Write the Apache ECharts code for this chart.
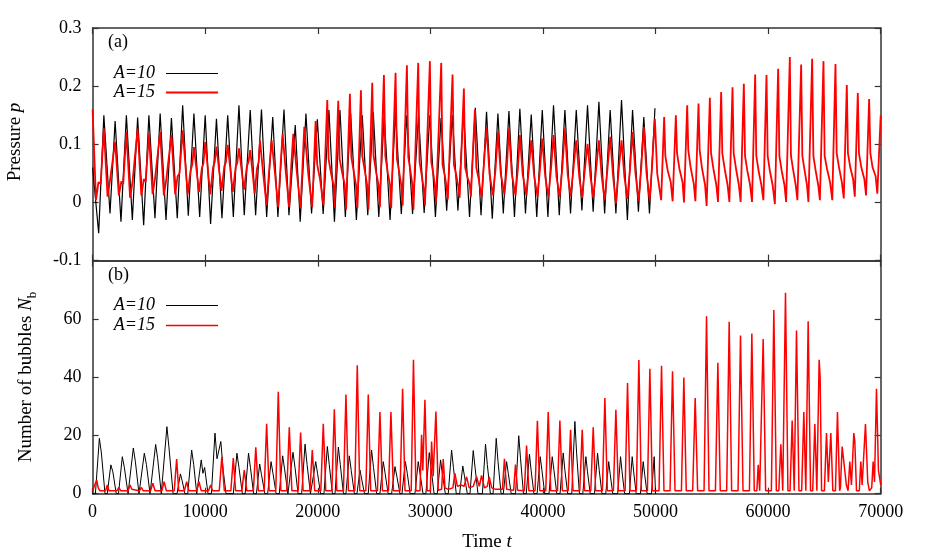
<!DOCTYPE html>
<html>
<head>
<meta charset="utf-8">
<title>Pressure and number of bubbles</title>
<script src="https://cdn.jsdelivr.net/npm/echarts@6/dist/echarts.min.js"></script>
<style>
  html, body { margin: 0; padding: 0; background: #fff; }
  #chart { width: 926px; height: 555px; }
</style>
</head>
<body>
<div id="chart"></div>
<script>
  // axis ranges and ticks
  var timeAxis = [0, 70000, 10000];
  var pressureAxis = [-0.1, 0.3, 0.1];
  var bubbleAxis = [0, 80, 20];

  // (a) pressure p, A=10 : [t, p]
  var pressureA10 = [
    [0, 0.06], [540, -0.053],
    [1000, 0.150], [1545, -0.019], [2000, 0.140], [2520, -0.033], [3000, 0.150], [3530, -0.030],
    [4000, 0.146], [4535, -0.039], [5000, 0.150], [5540, -0.027], [6000, 0.153], [6520, -0.030],
    [7000, 0.145], [7520, -0.027], [8000, 0.167], [8500, -0.023], [9000, 0.153], [9510, -0.025],
    [10000, 0.150], [10480, -0.037], [11000, 0.144], [11490, -0.027], [12000, 0.150], [12500, -0.025],
    [13000, 0.167], [13470, -0.022], [14000, 0.159], [14480, -0.022], [15000, 0.160], [15460, -0.025],
    [16000, 0.147], [16460, -0.025], [17000, 0.160], [17440, -0.022], [18000, 0.133], [18440, -0.033],
    [18950, 0.153], [19450, -0.019], [19960, 0.143], [20480, -0.020], [20990, 0.159], [21480, -0.033],
    [21970, 0.159], [22450, -0.025], [22920, 0.153], [23430, -0.030], [23950, 0.150], [24440, -0.022],
    [24930, 0.155], [25420, -0.025], [25900, 0.150], [26420, -0.030], [26900, 0.155], [27420, -0.020],
    [27900, 0.150], [28420, -0.020], [28950, 0.150], [29450, -0.018], [29950, 0.150], [30450, -0.025],
    [30950, 0.145], [31450, -0.014], [31950, 0.150], [32450, -0.014], [32950, 0.157], [33480, -0.025],
    [33990, 0.163], [34500, -0.022], [34990, 0.156], [35500, -0.028], [36000, 0.153], [36480, -0.019],
    [36980, 0.157], [37470, -0.025], [37950, 0.161], [38450, -0.019], [38960, 0.151], [39450, -0.025],
    [39940, 0.159], [40440, -0.025], [40940, 0.167], [41450, -0.022], [41950, 0.159], [42450, -0.019],
    [42960, 0.159], [43460, -0.014], [43960, 0.167], [44460, -0.016], [44970, 0.173], [45480, -0.019],
    [45970, 0.159], [46480, -0.019], [46980, 0.176], [47500, -0.030], [47960, 0.159], [48480, -0.016],
    [48960, 0.147], [49460, -0.019], [49950, 0.162]
  ];

  // (a) pressure p, A=15 : [t, p]
  var pressureA15 = [
    [0, 0.160], [300, 0.004], [520, 0.035], [720, 0.032],
    [1000, 0.127], [1330, 0.010], [1550, 0.038], [1720, 0.035],
    [2000, 0.104], [2330, 0.012], [2550, 0.036], [2720, 0.032],
    [3000, 0.121], [3330, 0.008], [3550, 0.036], [3720, 0.038],
    [4000, 0.127], [4330, 0.012], [4550, 0.040], [4720, 0.036],
    [5000, 0.118], [5330, 0.014], [5550, 0.042], [5720, 0.040],
    [6000, 0.121], [6330, 0.012], [6550, 0.040], [6720, 0.042],
    [7000, 0.116], [7330, 0.014], [7550, 0.045], [7720, 0.050],
    [8000, 0.124], [8450, 0.014], [8700, 0.055], [8850, 0.065],
    [9000, 0.095], [9450, 0.018], [9700, 0.058], [9850, 0.068],
    [10000, 0.104], [10450, 0.014], [10700, 0.060], [10850, 0.070],
    [11000, 0.096], [11450, 0.020], [11700, 0.062], [11850, 0.070],
    [12000, 0.099], [12450, 0.018], [12700, 0.060], [12850, 0.068],
    [13000, 0.093], [13450, 0.022], [13700, 0.062], [13850, 0.070],
    [14000, 0.090], [14400, 0.015], [14600, 0.058], [14750, 0.070],
    [14865, 0.107], [15150, 0.050], [15450, -0.005], [15700, 0.060],
    [15901, 0.107], [16200, 0.050], [16480, -0.008], [16700, 0.065],
    [16878, 0.118], [17170, 0.050], [17460, -0.008], [17650, 0.065],
    [17825, 0.118], [18150, 0.050], [18470, -0.010], [18650, 0.065],
    [18802, 0.130], [19150, 0.050], [19500, -0.008], [19650, 0.060],
    [19808, 0.140], [19950, 0.065], [20200, 0.040], [20500, -0.005],
    [20844, 0.176], [20960, 0.075], [21200, 0.048], [21400, 0.030], [21500, -0.008],
    [21819, 0.175], [21940, 0.075], [22180, 0.050], [22400, 0.030], [22520, -0.012],
    [22855, 0.187], [22980, 0.078], [23220, 0.050], [23400, 0.030], [23520, -0.010],
    [23832, 0.193], [23950, 0.080], [24200, 0.052], [24380, 0.030], [24500, -0.012],
    [24838, 0.206], [24960, 0.080], [25200, 0.050], [25400, 0.030], [25520, -0.008],
    [25874, 0.219], [26000, 0.080], [26230, 0.050], [26420, 0.030], [26520, -0.010],
    [26910, 0.223], [27030, 0.075], [27270, 0.048], [27430, 0.028], [27540, -0.005],
    [27917, 0.236], [28040, 0.078], [28280, 0.048], [28420, 0.028], [28500, -0.012],
    [28923, 0.240], [29040, 0.070], [29250, 0.045], [29400, 0.025], [29520, -0.005],
    [29959, 0.243], [30080, 0.070], [30300, 0.045], [30420, 0.025], [30500, 0.000],
    [30966, 0.240], [31080, 0.065], [31300, 0.045], [31450, 0.025], [31550, 0.005],
    [31972, 0.220], [32090, 0.065], [32320, 0.045], [32500, 0.025], [32600, 0.008],
    [32978, 0.196], [33090, 0.060], [33320, 0.042], [33500, 0.030], [33600, 0.010],
    [33955, 0.159], [34080, 0.060], [34300, 0.040], [34450, 0.020], [34550, 0.010],
    [34993, 0.130], [35250, 0.050], [35560, 0.012], [35800, 0.060],
    [36000, 0.121], [36250, 0.050], [36580, 0.014], [36800, 0.062],
    [36976, 0.127], [37230, 0.050], [37560, 0.012], [37780, 0.060],
    [37953, 0.116], [38200, 0.048], [38530, 0.012], [38760, 0.060],
    [38959, 0.107], [39220, 0.045], [39520, 0.010], [39740, 0.058],
    [39936, 0.110], [40200, 0.045], [40480, 0.010], [40720, 0.058],
    [40943, 0.116], [41200, 0.045], [41480, 0.010], [41720, 0.058],
    [41949, 0.127], [42200, 0.048], [42460, 0.010], [42720, 0.060],
    [42955, 0.107], [43220, 0.045], [43480, 0.008], [43730, 0.058],
    [43962, 0.101], [44220, 0.045], [44470, 0.008], [44730, 0.058],
    [44968, 0.107], [45220, 0.045], [45480, 0.004], [45740, 0.060],
    [45975, 0.113], [46230, 0.045], [46480, -0.002], [46740, 0.058],
    [46981, 0.107], [47230, 0.045], [47500, 0.006], [47740, 0.060],
    [47958, 0.121], [48220, 0.050], [48500, 0.002], [48740, 0.062],
    [48960, 0.130], [49200, 0.050], [49480, 0.004], [49700, 0.065],
    [49941, 0.144], [50150, 0.050], [50500, 0.004],
    [50767, 0.147], [50870, 0.080], [51080, 0.055], [51350, 0.035], [51520, 0.002],
    [51806, 0.150], [51910, 0.085], [52120, 0.058], [52400, 0.035], [52530, 0.000],
    [52812, 0.167], [52910, 0.090], [53120, 0.060], [53400, 0.032], [53540, 0.002],
    [53819, 0.170], [53920, 0.090], [54120, 0.060], [54400, 0.030], [54540, -0.006],
    [54825, 0.180], [54930, 0.085], [55140, 0.058], [55400, 0.030], [55550, 0.001],
    [55831, 0.190], [55930, 0.085], [56140, 0.058], [56400, 0.030], [56560, 0.001],
    [56838, 0.198], [56940, 0.085], [57150, 0.058], [57400, 0.030], [57560, 0.001],
    [57844, 0.204], [57950, 0.080], [58150, 0.055], [58400, 0.030], [58570, 0.001],
    [58850, 0.220], [58950, 0.080], [59150, 0.055], [59400, 0.030], [59580, 0.004],
    [59857, 0.219], [59960, 0.080], [60150, 0.055], [60400, 0.030], [60600, -0.003],
    [60893, 0.230], [61000, 0.080], [61200, 0.055], [61450, 0.030], [61600, 0.001],
    [61929, 0.250], [62030, 0.080], [62230, 0.055], [62450, 0.030], [62600, 0.004],
    [62935, 0.237], [63040, 0.080], [63240, 0.055], [63450, 0.030], [63580, 0.001],
    [63912, 0.247], [64020, 0.080], [64220, 0.055], [64450, 0.030], [64600, 0.004],
    [64918, 0.243], [65020, 0.080], [65230, 0.058], [65500, 0.035], [65700, 0.004],
    [65984, 0.238], [66090, 0.085], [66300, 0.060], [66550, 0.035], [66720, 0.007],
    [66990, 0.202], [67090, 0.085], [67300, 0.060], [67550, 0.040], [67700, 0.010],
    [67967, 0.188], [68070, 0.085], [68280, 0.060], [68550, 0.040], [68700, 0.012],
    [68973, 0.178], [69080, 0.085], [69280, 0.060], [69550, 0.045], [69700, 0.015],
    [70000, 0.150]
  ];

  // (b) number of bubbles N_b, A=10 : [t, N]
  var bubblesA10 = [
    [0, 0], [250, 0], [600, 19.0], [780, 14.0], [1100, 0],
    [1300, 0], [1620, 9.9], [1800, 7.5], [2100, 0],
    [2300, 0], [2640, 12.7], [2820, 9.0], [3150, 0],
    [3280, 0], [3617, 15.7], [3800, 11.0], [4120, 0],
    [4250, 0], [4594, 13.9], [4780, 10.0], [5100, 0],
    [5250, 0], [5600, 16.9], [5780, 12.0], [6100, 0],
    [6250, 0], [6600, 23.0], [6780, 16.0], [7150, 0],
    [7500, 0], [7800, 6.8], [7950, 4.5], [8200, 0],
    [8450, 0], [8797, 15.0], [8980, 10.0], [9250, 0],
    [9350, 0], [9650, 11.6], [9800, 7.0], [9950, 9.0], [10250, 0],
    [10550, 0], [10869, 20.8], [11050, 12.0], [11390, 17.9], [11600, 8.0], [11850, 0],
    [12500, 0], [12820, 13.9], [13000, 9.0], [13300, 0],
    [13550, 0], [13850, 13.9], [14020, 9.0], [14300, 0],
    [14550, 0], [14840, 10.2], [15000, 6.5], [15300, 0],
    [15550, 0], [15850, 11.0], [16020, 7.0], [16300, 0],
    [16580, 0], [16880, 13.0], [17050, 8.5], [17350, 0],
    [17500, 0], [17800, 14.2], [17980, 9.0], [18250, 0],
    [18570, 0], [18870, 17.0], [19050, 10.0], [19350, 0],
    [19520, 0], [19820, 11.0], [19980, 7.0], [20250, 0],
    [20550, 0], [20850, 16.2], [21020, 10.0], [21300, 0],
    [21530, 0], [21830, 16.0], [22000, 10.0], [22280, 0],
    [22500, 0], [22800, 13.0], [22970, 8.0], [23250, 0],
    [23480, 0], [23750, 8.1], [23900, 5.0], [24150, 0],
    [24480, 0], [24780, 15.0], [24950, 9.0], [25230, 0],
    [25520, 0], [25817, 11.0], [25980, 7.0], [26250, 0],
    [26560, 0], [26860, 9.3], [27020, 6.0], [27300, 0],
    [27480, 0], [27780, 11.0], [27950, 7.0], [28200, 0],
    [28630, 0], [28925, 11.0], [29080, 7.0], [29350, 0],
    [29600, 0], [29902, 14.1], [30060, 9.0], [30330, 0],
    [30610, 0], [30909, 11.6], [31060, 7.0], [31330, 0],
    [31590, 0], [31885, 15.0], [32050, 9.0], [32300, 0],
    [32600, 0], [32880, 9.5], [33030, 6.0], [33280, 0],
    [33520, 0], [33809, 14.8], [33970, 9.0], [34230, 0],
    [34620, 0], [34900, 17.0], [35060, 10.0], [35330, 0],
    [35570, 0], [35850, 19.0], [36010, 11.0], [36280, 0],
    [36480, 0], [36769, 11.0], [36920, 7.0], [37180, 0],
    [37570, 0], [37850, 19.9], [38010, 12.0], [38270, 0],
    [38520, 0], [38800, 13.6], [38950, 8.0], [39200, 0],
    [39480, 0], [39760, 12.7], [39910, 8.0], [40160, 0],
    [40540, 0], [40824, 12.7], [40980, 8.0], [41230, 0],
    [41520, 0], [41801, 14.0], [41950, 8.0], [42200, 0],
    [42560, 0], [42837, 24.8], [42990, 14.0], [43240, 0],
    [43540, 0], [43814, 12.7], [43960, 7.5], [44200, 0],
    [44580, 0], [44850, 13.9], [45000, 8.0], [45240, 0],
    [45580, 0], [45840, 11.0], [45980, 6.5], [46200, 0],
    [46640, 0], [46892, 12.7], [47030, 7.5], [47250, 0],
    [47680, 0], [47928, 12.7], [48060, 7.5], [48280, 0],
    [48660, 0], [48905, 11.0], [49040, 6.5], [49250, 0],
    [49640, 0], [49882, 12.7], [50000, 0]
  ];

  // (b) number of bubbles N_b, A=15 : [t, N]
  var bubblesA15 = [
    [0, 1.0], [150, 1.0], [361, 4.7], [500, 2.0], [650, 1.0],
    [1150, 1.0], [1310, 3.0], [1450, 1.0],
    [2150, 1.0], [2330, 2.2], [2500, 1.0],
    [3150, 1.0], [3330, 3.0], [3480, 1.5], [3600, 1.0],
    [4150, 1.0], [4330, 2.2], [4500, 1.0],
    [5150, 1.0], [5350, 3.6], [5550, 1.0],
    [6150, 1.0], [6350, 4.1], [6550, 1.0],
    [7250, 1.0], [7466, 11.9], [7650, 1.0],
    [8150, 1.0], [8354, 4.1], [8550, 1.0],
    [9250, 1.0], [9450, 4.1], [9650, 1.0],
    [10300, 1.0], [10480, 3.0], [10650, 1.0],
    [11250, 1.0], [11480, 12.7], [11700, 1.0],
    [12280, 1.0], [12497, 12.2], [12700, 1.0],
    [13250, 1.0], [13473, 8.1], [13700, 1.0],
    [14280, 1.0], [14495, 15.9], [14720, 1.0],
    [15240, 1.0], [15457, 24.0], [15680, 1.0],
    [16270, 1.0], [16493, 35.0], [16720, 1.0],
    [17250, 1.0], [17470, 22.8], [17700, 1.0],
    [18260, 1.0], [18477, 21.0], [18700, 1.0],
    [19300, 1.0], [19512, 15.0], [19730, 1.0],
    [20270, 1.0], [20489, 24.0], [20710, 1.0],
    [21250, 1.0], [21470, 29.0], [21690, 1.0],
    [22280, 1.0], [22502, 34.0], [22720, 1.0],
    [23290, 1.0], [23508, 44.1], [23730, 1.0],
    [24270, 1.0], [24485, 34.0], [24700, 1.0],
    [25300, 1.0], [25521, 28.0], [25740, 1.0],
    [26280, 1.0], [26498, 28.0], [26720, 1.0],
    [27310, 1.0], [27534, 36.0], [27750, 1.0],
    [28300, 1.0], [28500, 46.0], [28720, 1.0],
    [29080, 1.0], [29221, 20.2], [29330, 8.0], [29517, 32.2], [29720, 1.0],
    [30000, 1.0], [30109, 17.9], [30250, 6.0], [30493, 28.2], [30700, 1.2],
    [31000, 1.5], [31145, 11.9], [31300, 2.0], [31600, 1.5],
    [32000, 2.0], [32181, 7.0], [32400, 2.5], [32700, 3.0],
    [33000, 2.5], [33217, 5.8], [33450, 2.0], [33800, 2.5],
    [34105, 5.8], [34350, 2.5], [34549, 6.3], [34800, 2.0],
    [35050, 2.5], [35230, 5.8], [35450, 2.0], [35800, 1.5],
    [36400, 1.5], [36580, 12.0], [36780, 1.5],
    [37400, 1.2], [37560, 10.0], [37750, 1.2],
    [38350, 1.0], [38545, 16.5], [38750, 1.0],
    [39300, 1.0], [39507, 25.0], [39720, 1.0],
    [40250, 1.0], [40469, 28.0], [40690, 1.0],
    [41290, 1.0], [41505, 25.1], [41720, 1.0],
    [42240, 1.0], [42452, 21.9], [42670, 1.0],
    [43270, 1.0], [43488, 21.9], [43700, 1.0],
    [44250, 1.0], [44465, 22.8], [44680, 1.0],
    [45280, 1.0], [45501, 32.8], [45720, 1.0],
    [46260, 1.0], [46478, 28.8], [46700, 1.0],
    [47300, 1.0], [47514, 38.0], [47730, 1.0],
    [48300, 1.0], [48520, 45.9], [48740, 1.0],
    [49280, 1.0], [49497, 42.9], [49720, 1.0],
    [50310, 1.0], [50533, 43.9], [50750, 1.0],
    [51290, 1.0], [51510, 42.0], [51730, 1.0],
    [52300, 1.0], [52516, 39.9], [52730, 1.0],
    [53300, 1.0], [53523, 32.8], [53740, 1.0],
    [54310, 1.0], [54529, 60.9], [54750, 1.0],
    [55320, 1.0], [55536, 44.9], [55750, 1.0],
    [56320, 1.0], [56542, 59.0], [56760, 1.0],
    [57330, 1.0], [57548, 54.3], [57770, 1.0],
    [58340, 1.0], [58555, 55.0], [58770, 1.0],
    [59000, 1.0], [59121, 9.9], [59250, 1.0],
    [59340, 1.0], [59561, 53.1], [59780, 1.0],
    [60290, 1.0], [60508, 63.0], [60730, 1.0],
    [60950, 1.0], [61130, 17.0], [61300, 1.0],
    [61330, 1.0], [61544, 69.0], [61760, 1.0],
    [61950, 1.0], [62136, 25.1], [62320, 1.0],
    [62340, 1.0], [62521, 56.0], [62740, 1.0],
    [62980, 1.0], [63172, 28.0], [63350, 1.0],
    [63370, 1.0], [63557, 59.2], [63770, 1.0],
    [63960, 1.0], [64149, 23.9], [64330, 1.0],
    [64360, 1.0], [64533, 46.0], [64620, 40.0], [64750, 1.0],
    [65000, 1.0], [65185, 20.8], [65350, 4.0], [65570, 20.8], [65750, 1.0],
    [65980, 1.0], [66161, 28.0], [66350, 1.0],
    [66420, 2.0], [66576, 16.2], [66750, 16.0], [66950, 3.0], [67100, 1.0],
    [67150, 1.0], [67257, 11.0], [67400, 3.0], [67612, 20.8], [67700, 18.0], [67850, 1.0],
    [68100, 1.0], [68233, 11.0], [68350, 3.0], [68648, 23.9], [68850, 4.0], [69000, 1.0],
    [69200, 2.0], [69329, 11.0], [69450, 4.0], [69625, 36.0], [69800, 8.0], [70000, 3.0]
  ];

  var FONT = '"Liberation Serif", "DejaVu Serif", serif';
  var frameColor = '#333';

  function xAxisFor(grid, pos, showLabels) {
    return {
      type: 'value', gridIndex: grid, position: pos,
      min: timeAxis[0], max: timeAxis[1], interval: timeAxis[2],
      axisLine: { show: true, onZero: false, lineStyle: { color: frameColor, width: 1.5 } },
      axisTick: { show: true, inside: true, length: 6, lineStyle: { color: frameColor, width: 1.2 } },
      axisLabel: {
        show: showLabels, margin: 10, color: '#000', fontFamily: FONT, fontSize: 18,
        formatter: function (v) { return String(v); }
      },
      splitLine: { show: false }
    };
  }

  function yAxisFor(grid, pos, range, fmt) {
    return {
      type: 'value', gridIndex: grid, position: pos,
      min: range[0], max: range[1], interval: range[2],
      axisLine: { show: true, onZero: false, lineStyle: { color: frameColor, width: 1.5 } },
      axisTick: { show: true, inside: true, length: 6, lineStyle: { color: frameColor, width: 1.2 } },
      axisLabel: { show: !!fmt, margin: 11, color: '#000', fontFamily: FONT, fontSize: 18, formatter: fmt },
      splitLine: { show: false }
    };
  }

  var chart = echarts.init(document.getElementById('chart'));

  chart.setOption({
    animation: false,
    backgroundColor: '#fff',
    grid: [
      { left: 92.6, top: 28, width: 788.1, height: 232.6 },
      { left: 92.6, top: 260.6, width: 788.1, height: 233.1 }
    ],
    xAxis: [
      xAxisFor(0, 'bottom', false),
      xAxisFor(0, 'top', false),
      xAxisFor(1, 'bottom', true),
      xAxisFor(1, 'top', false)
    ],
    yAxis: [
      yAxisFor(0, 'left', pressureAxis, function (v) { return String(Math.round(v * 10) / 10); }),
      yAxisFor(0, 'right', pressureAxis, null),
      yAxisFor(1, 'left', bubbleAxis, function (v) { return v === 80 ? '' : String(v); }),
      yAxisFor(1, 'right', bubbleAxis, null)
    ],
    series: [
      {
        name: 'A=10', type: 'line', xAxisIndex: 0, yAxisIndex: 0, data: pressureA10,
        showSymbol: false, symbol: 'none', lineStyle: { color: '#000', width: 1.2 }, silent: true
      },
      {
        name: 'A=15', type: 'line', xAxisIndex: 0, yAxisIndex: 0, data: pressureA15,
        showSymbol: false, symbol: 'none', lineStyle: { color: '#ff0000', width: 1.8 }, silent: true
      },
      {
        name: 'A=10', type: 'line', xAxisIndex: 2, yAxisIndex: 2, data: bubblesA10,
        showSymbol: false, symbol: 'none', lineStyle: { color: '#000', width: 1 }, silent: true
      },
      {
        name: 'A=15', type: 'line', xAxisIndex: 2, yAxisIndex: 2, data: bubblesA15,
        showSymbol: false, symbol: 'none', lineStyle: { color: '#ff0000', width: 1.5 }, silent: true
      }
    ],
    graphic: [
      { type: 'text', x: 108, y: 42, style: { text: '(a)', font: '18px ' + FONT, fill: '#000', textAlign: 'left', textVerticalAlign: 'middle' } },
      { type: 'text', x: 108, y: 275, style: { text: '(b)', font: '18px ' + FONT, fill: '#000', textAlign: 'left', textVerticalAlign: 'middle' } },
      // legend (a)
      { type: 'text', x: 155, y: 73, style: { text: 'A=10', font: 'italic 18px ' + FONT, fill: '#000', textAlign: 'right', textVerticalAlign: 'middle' } },
      { type: 'line', shape: { x1: 166, y1: 73.5, x2: 218, y2: 73.5 }, style: { stroke: '#000', lineWidth: 1 } },
      { type: 'text', x: 155, y: 92, style: { text: 'A=15', font: 'italic 18px ' + FONT, fill: '#000', textAlign: 'right', textVerticalAlign: 'middle' } },
      { type: 'line', shape: { x1: 166, y1: 92.5, x2: 218, y2: 92.5 }, style: { stroke: '#ff0000', lineWidth: 1.8 } },
      // legend (b)
      { type: 'text', x: 155, y: 305, style: { text: 'A=10', font: 'italic 18px ' + FONT, fill: '#000', textAlign: 'right', textVerticalAlign: 'middle' } },
      { type: 'line', shape: { x1: 166, y1: 305.5, x2: 218, y2: 305.5 }, style: { stroke: '#000', lineWidth: 1 } },
      { type: 'text', x: 155, y: 325, style: { text: 'A=15', font: 'italic 18px ' + FONT, fill: '#000', textAlign: 'right', textVerticalAlign: 'middle' } },
      { type: 'line', shape: { x1: 166, y1: 325.5, x2: 218, y2: 325.5 }, style: { stroke: '#ff0000', lineWidth: 1.5 } },
      // axis titles
      {
        type: 'text', x: 15, y: 142, rotation: Math.PI / 2,
        style: {
          text: '{r|Pressure }{i|p}', textAlign: 'center', textVerticalAlign: 'middle', fill: '#000',
          rich: { r: { fontFamily: FONT, fontSize: 19 }, i: { fontFamily: FONT, fontSize: 19, fontStyle: 'italic' } }
        }
      },
      {
        type: 'text', x: 26, y: 377, rotation: Math.PI / 2,
        style: {
          text: '{r|Number of bubbles }{i|N}{s|b}', textAlign: 'center', textVerticalAlign: 'middle', fill: '#000',
          rich: {
            r: { fontFamily: FONT, fontSize: 19, lineHeight: 26 },
            i: { fontFamily: FONT, fontSize: 19, fontStyle: 'italic', lineHeight: 26 },
            s: { fontFamily: FONT, fontSize: 13, verticalAlign: 'bottom', lineHeight: 26 }
          }
        }
      },
      {
        type: 'text', x: 487, y: 542,
        style: {
          text: '{r|Time }{i|t}', textAlign: 'center', textVerticalAlign: 'middle', fill: '#000',
          rich: { r: { fontFamily: FONT, fontSize: 19 }, i: { fontFamily: FONT, fontSize: 19, fontStyle: 'italic' } }
        }
      }
    ]
  });
</script>
</body>
</html>
